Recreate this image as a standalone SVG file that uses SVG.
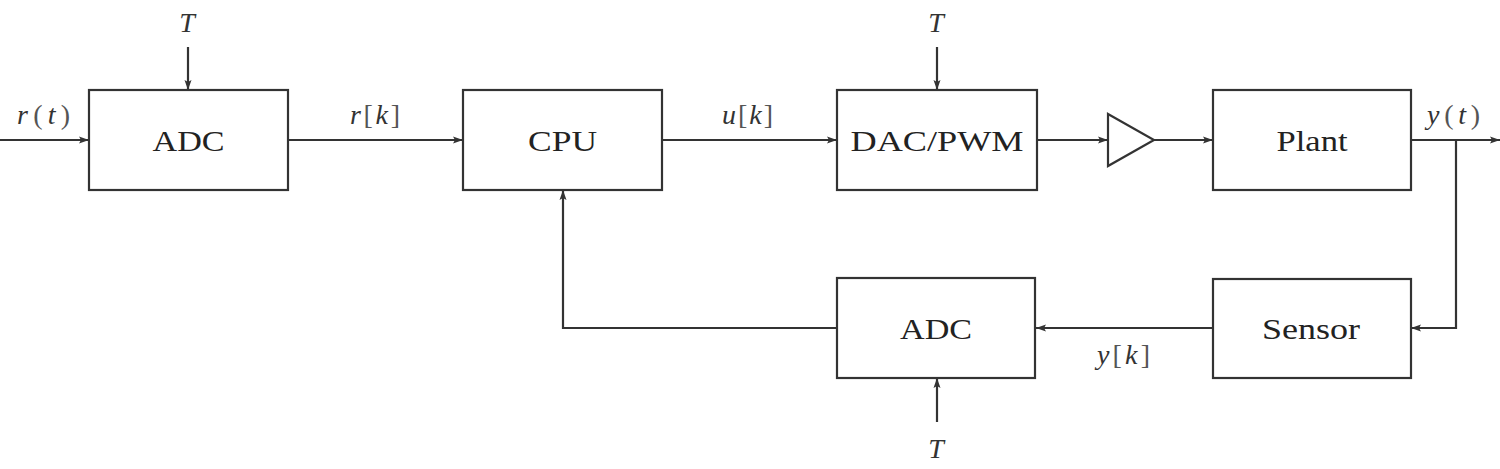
<svg xmlns="http://www.w3.org/2000/svg" width="1500" height="469" viewBox="0 0 1500 469">
<style>
.box{fill:#fff;stroke:#333;stroke-width:2.2}
.ln{fill:none;stroke:#333;stroke-width:2.2}
.lbl{font-family:"Liberation Serif",serif;font-size:30px;fill:#222;text-anchor:middle}
.m{font-family:"Liberation Serif",serif;font-size:28px;font-style:italic;fill:#333;text-anchor:middle}
.u{font-style:normal;fill:#555}
</style>
<defs>
<marker id="ah" viewBox="0 0 10 10" refX="10" refY="5" markerWidth="10" markerHeight="10" markerUnits="userSpaceOnUse" orient="auto">
<path d="M0,1.5 L10,5 L0,8.5 L2,5 Z" fill="#333"/>
</marker>
</defs>
<g id="connectors">
<line class="ln" x1="0" y1="140" x2="89" y2="140" marker-end="url(#ah)"/>
<line class="ln" x1="188" y1="47" x2="188" y2="90" marker-end="url(#ah)"/>
<line class="ln" x1="288" y1="140" x2="463" y2="140" marker-end="url(#ah)"/>
<line class="ln" x1="662" y1="140" x2="837" y2="140" marker-end="url(#ah)"/>
<line class="ln" x1="937" y1="47" x2="937" y2="90" marker-end="url(#ah)"/>
<line class="ln" x1="1037" y1="140" x2="1108" y2="140" marker-end="url(#ah)"/>
<line class="ln" x1="1154" y1="140" x2="1213" y2="140" marker-end="url(#ah)"/>
<line class="ln" x1="1411" y1="140" x2="1500" y2="140" marker-end="url(#ah)"/>
<polyline class="ln" points="1456,140 1456,328 1411,328" marker-end="url(#ah)"/>
<line class="ln" x1="1213" y1="328" x2="1036" y2="328" marker-end="url(#ah)"/>
<line class="ln" x1="937" y1="422" x2="937" y2="378" marker-end="url(#ah)"/>
<polyline class="ln" points="837,328 563,328 563,190" marker-end="url(#ah)"/>
<text class="m" x="43.5" y="124" textLength="53" lengthAdjust="spacing">r<tspan class="u">(</tspan>t<tspan class="u">)</tspan></text>
<text class="m" x="187" y="32" font-size="30">T</text>
<text class="m" x="375" y="124" textLength="50" lengthAdjust="spacing">r<tspan class="u">[</tspan>k<tspan class="u">]</tspan></text>
<text class="m" x="747.5" y="124" textLength="51" lengthAdjust="spacing">u<tspan class="u">[</tspan>k<tspan class="u">]</tspan></text>
<text class="m" x="936" y="32" font-size="30">T</text>
<text class="m" x="1453.5" y="124" textLength="53" lengthAdjust="spacing">y<tspan class="u">(</tspan>t<tspan class="u">)</tspan></text>
<text class="m" x="1123.5" y="364" textLength="53" lengthAdjust="spacing">y<tspan class="u">[</tspan>k<tspan class="u">]</tspan></text>
<text class="m" x="936" y="458" font-size="30">T</text>
</g>
<g id="adc1">
<rect class="box" x="89" y="90" width="199" height="100"/>
<text class="lbl" x="188.5" y="151" textLength="72" lengthAdjust="spacingAndGlyphs">ADC</text>
</g>
<g id="cpu">
<rect class="box" x="463" y="90" width="199" height="100"/>
<text class="lbl" x="562.5" y="151" textLength="69" lengthAdjust="spacingAndGlyphs">CPU</text>
</g>
<g id="dac">
<rect class="box" x="837" y="90" width="200" height="100"/>
<text class="lbl" x="937" y="151" textLength="173" lengthAdjust="spacingAndGlyphs">DAC/PWM</text>
</g>
<g id="amp">
<polygon class="box" points="1108,114 1154,140 1108,166"/>
</g>
<g id="plant">
<rect class="box" x="1213" y="90" width="198" height="100"/>
<text class="lbl" x="1312" y="151" textLength="71" lengthAdjust="spacingAndGlyphs">Plant</text>
</g>
<g id="sensor">
<rect class="box" x="1213" y="279" width="198" height="99"/>
<text class="lbl" x="1311" y="339" textLength="98" lengthAdjust="spacingAndGlyphs">Sensor</text>
</g>
<g id="adc2">
<rect class="box" x="837" y="278" width="198" height="100"/>
<text class="lbl" x="936" y="339" textLength="72" lengthAdjust="spacingAndGlyphs">ADC</text>
</g>
</svg>
